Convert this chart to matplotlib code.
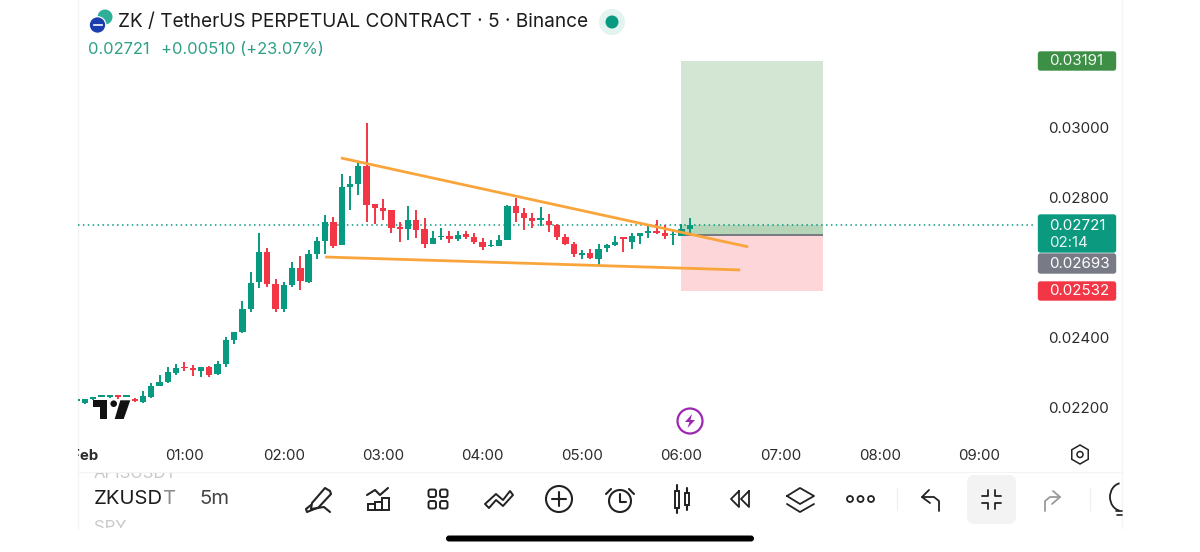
import numpy as np
import matplotlib
matplotlib.use("Agg")
import matplotlib.pyplot as plt
from matplotlib.patches import Circle, Polygon, FancyBboxPatch, Rectangle, RegularPolygon, Arc
from matplotlib.transforms import Bbox, TransformedBbox, IdentityTransform

plt.rcParams['font.family'] = ['Inter', 'DejaVu Sans']

# ---------- data (prices in units of 0.00001) ----------
opens = [2218,2213,2224,2230,2229,2235,2230,2224,2217,2231,2262,2272,2298,2316,2311,2304,2317,2295,2324,2392,2415,2482,2558,2644,2553,2481,2549,2599,2559,2639,2677,2731,2664,2830,2838,2891,2781,2771,2763,2714,2710,2736,2709,2667,2686,2689,2682,2695,2688,2672,2660,2662,2679,2776,2757,2742,2735,2734,2721,2686,2667,2637,2642,2625,2655,2664,2684,2674,2691,2699,2704,2699,2692,2691,2710]
closes = [2219,2224,2226,2231,2235,2229,2231,2219,2232,2262,2273,2300,2312,2312,2308,2316,2294,2324,2392,2416,2482,2557,2644,2553,2481,2550,2599,2561,2639,2677,2731,2662,2829,2838,2891,2779,2771,2762,2712,2710,2737,2708,2667,2684,2690,2682,2694,2687,2672,2658,2662,2679,2777,2755,2740,2733,2739,2722,2686,2666,2638,2642,2626,2654,2664,2674,2681,2690,2698,2702,2699,2690,2695,2710,2721]
highs = [2220,2225,2227,2232,2236,2236,2232,2228,2246,2271,2293,2317,2324,2331,2322,2317,2318,2333,2402,2416,2504,2588,2698,2655,2567,2559,2617,2633,2650,2688,2750,2745,2866,2862,2902,3012,2782,2795,2765,2729,2777,2765,2741,2705,2714,2704,2704,2705,2698,2684,2678,2693,2778,2799,2769,2755,2773,2753,2724,2695,2674,2651,2652,2666,2668,2691,2688,2699,2699,2720,2737,2722,2705,2724,2741]
lows = [2217,2210,2222,2229,2228,2224,2229,2216,2214,2228,2262,2269,2293,2305,2291,2288,2286,2294,2317,2381,2414,2473,2541,2544,2474,2473,2545,2535,2557,2625,2638,2657,2664,2765,2807,2731,2724,2737,2699,2674,2679,2683,2657,2667,2678,2669,2676,2681,2666,2649,2659,2661,2678,2731,2707,2714,2719,2702,2679,2664,2631,2624,2625,2607,2645,2662,2645,2652,2667,2683,2697,2681,2664,2690,2697]

time_labels = ["Feb", "01:00", "02:00", "03:00", "04:00", "05:00", "06:00", "07:00", "08:00", "09:00"]
price_ticks = [0.022, 0.024, 0.028, 0.030]
price_tick_labels = ["0.02200", "0.02400", "0.02800", "0.03000"]

last_price = 0.02721
target_price = 0.03191
entry_price = 0.02693
stop_price = 0.02532
position_bars = [72, 89.1]

upper_line_x = [30.9, 80.07]
upper_line_y = [0.02913, 0.02659]
lower_line_x = [29, 79.1]
lower_line_y = [0.02630, 0.02593]

GREEN = "#089981"
RED = "#F23645"
ORANGE = "#F9A53B"
INK = "#1c1c1e"
W, H = 1200, 552

fig = plt.figure(figsize=(12, 5.52), dpi=100, facecolor="white")

# ---------- chart pane ----------
L, R, B = 78, 1036, 442
ax = fig.add_axes([L / W, 1 - B / H, (R - L) / W, B / H])
ax.patch.set_alpha(0)
px_per_bar = 8.283
ax.set_xlim((L - 85) / px_per_bar, (R - 85) / px_per_bar)
ax.set_ylim(0.03 - (B - 127.5) / 35000, 0.03 + 127.5 / 35000)
for s in ax.spines.values():
    s.set_visible(False)

o, c, h, l = [np.array(a) * 1e-5 for a in (opens, closes, highs, lows)]
idx = np.arange(-1, len(o) - 1)
cols = [GREEN if ci >= oi else RED for oi, ci in zip(o, c)]

pw = position_bars[1] - position_bars[0]
ax.add_patch(Rectangle((position_bars[0], entry_price), pw, target_price - entry_price, fc="#d2e6d3", ec="none", zorder=1))
ax.add_patch(Rectangle((position_bars[0], entry_price), pw, last_price - entry_price, fc="#b6d5b8", ec="none", zorder=1.1))
ax.add_patch(Rectangle((position_bars[0], stop_price), pw, entry_price - stop_price, fc="#fdd6d9", ec="none", zorder=1))
ax.plot(position_bars, [entry_price, entry_price], color="#77797f", lw=1.4, zorder=2, solid_capstyle="butt")
ax.axhline(last_price, color=GREEN, lw=1.1, ls=(0, (1, 2.2)), zorder=2)

ax.vlines(idx, l, h, colors=cols, lw=1.4, zorder=3)
ax.bar(idx, np.maximum(np.abs(c - o), 5e-5), bottom=np.minimum(o, c), width=0.76, color=cols, zorder=4)

ax.plot(upper_line_x, upper_line_y, color=ORANGE, lw=2.0, zorder=5, solid_capstyle="butt")
ax.plot(lower_line_x, lower_line_y, color=ORANGE, lw=2.0, zorder=5, solid_capstyle="butt")

ax.yaxis.tick_right()
ax.set_yticks(price_ticks, price_tick_labels)
ax.tick_params(axis="y", length=0, pad=9.0, labelsize=10.9, labelcolor="#2b2b2e")
ax.set_xticks(np.arange(len(time_labels)) * 12, time_labels)
ax.tick_params(axis="x", length=0, pad=5.4, labelsize=10.8, labelcolor="#2b2b2e")
feb = ax.get_xticklabels()[0]
feb.set_fontweight("bold")
feb.set_clip_box(TransformedBbox(Bbox([[L, 0], [300, H]]), IdentityTransform()))
feb.set_clip_on(True)

# ---------- overlay in pixel units ----------
ui = fig.add_axes([0, 0, 1, 1], zorder=-1)
ui.set_xlim(0, W); ui.set_ylim(H, 0); ui.axis("off")
top = fig.add_axes([0, 0, 1, 1], zorder=5)
top.patch.set_alpha(0)
top.set_xlim(0, W); top.set_ylim(H, 0); top.axis("off")

# pane borders
for xs, ys in [((78, 78), (0, 528)), ((1122, 1122), (0, 528)), ((78, 1122), (472, 472))]:
    ui.plot(xs, ys, color="#f4f4f5", lw=0.9)

# TradingView logo (under the candles)
ui.add_patch(Polygon([(93, 400.3), (107.3, 400.3), (107.3, 419), (100.3, 419), (100.3, 407), (93, 407)], fc="#111111"))
ui.add_patch(Circle((113.7, 403.7), 3.3, fc="#111111"))
ui.add_patch(Polygon([(120.3, 400.3), (130.3, 400.3), (123.7, 419), (114.7, 419)], fc="#111111"))

# header
top.add_patch(Circle((105, 17), 7.5, fc="#2fae98"))
top.add_patch(Circle((97.5, 25), 8.3, fc="#1b3db0", ec="white", lw=0.9))
top.plot([93.5, 101.5], [25, 25], color="white", lw=1.2)
top.text(117.5, 22, "ZK / TetherUS PERPETUAL CONTRACT · 5 · Binance", fontsize=13.7, color=INK, va="center", ha="left")
top.add_patch(Circle((612, 22), 13, fc="#e3f3f0"))
top.add_patch(Circle((612, 22), 6.5, fc=GREEN))
top.text(88, 49.5, "0.02721", fontsize=11.9, color="#2f9f88", va="center")
top.text(161, 49.5, "+0.00510 (+23.07%)", fontsize=11.9, color="#2f9f88", va="center")

# right labels
def tag(y0, y1, color, lines):
    top.add_patch(FancyBboxPatch((1038.5, y0 + 1), 77, y1 - y0 - 2, boxstyle="round,pad=0,rounding_size=2",
                                 fc=color, ec=color, lw=1))
    for y, t, a in lines:
        top.text(1049, y, t, color="white", alpha=a, fontsize=10.9, va="center", ha="left")

tag(51, 71, "#3c8f45", [(61, "0.03191", 0.95)])
tag(214, 253, "#0b9a80", [(226, "0.02721", 1), (243, "02:14", 0.9)])
tag(253, 274, "#787b86", [(264, "0.02693", 1)])
tag(281, 301, "#F23645", [(291, "0.02532", 1)])

# alert & settings icons
PURPLE = "#9C27B0"
top.add_patch(Circle((690, 421), 12.5, fc="white", ec=PURPLE, lw=1.6))
top.add_patch(Polygon([(692, 414), (685, 422), (689.5, 422), (687.5, 428), (695, 420), (690.5, 420)], fc=PURPLE))
top.add_patch(RegularPolygon((1080, 454.5), 6, radius=9.5, fc="none", ec="#222222", lw=1.1))
top.add_patch(Circle((1080, 454.5), 3, fc="none", ec="#222222", lw=1.1))

# bottom toolbar
top.text(94, 499.5, "ZKUSD", fontsize=14.6, color=INK, va="center")
top.text(163, 499.5, "T", fontsize=14.6, color="#8b8b8e", va="center")
top.text(199, 499.5, "5m", fontsize=14.6, color="#444446", va="center")
t1 = top.text(94, 474, "APISUSDT", fontsize=12, color="#c9c9cc", va="center")
t1.set_clip_box(Bbox([[78, H - 520], [176, H - 473]])); t1.set_clip_on(True)
t2 = top.text(94, 527, "SPY", fontsize=12, color="#c9c9cc", va="center")
t2.set_clip_box(Bbox([[78, H - 528], [176, H - 500]])); t2.set_clip_on(True)

K = "#222224"
def pl(xs, ys, lw=1.5, color=K):
    top.plot(xs, ys, color=color, lw=lw, solid_capstyle="round", solid_joinstyle="round")

# pen
top.add_patch(Polygon([(312, 503), (325, 488), (330, 491), (331, 494), (318, 508), (311, 509)], fc="none", ec=K, lw=1.5, joinstyle="round"))
pl([311, 306, 307, 317, 324, 330], [505, 509, 512, 508, 507, 512])
# chart
pl([367, 375, 380, 388], [495, 490, 495, 488])
for x0, y0, w in [(368, 504, 7), (375, 502, 7), (382, 498, 7)]:
    top.add_patch(Rectangle((x0, y0), w, 510 - y0, fc="none", ec=K, lw=1.4))
# grid
for x0 in (428.5, 440):
    for y0 in (489.5, 501):
        top.add_patch(FancyBboxPatch((x0, y0), 7.5, 7.5, boxstyle="round,pad=0,rounding_size=2", fc="none", ec=K, lw=1.4))
# wave
top.add_patch(Polygon([(485, 504), (496, 494), (503, 500), (510, 491), (513, 495), (503, 506), (496, 500), (489, 508)],
                      fc="none", ec=K, lw=1.4, joinstyle="round"))
# plus
top.add_patch(Circle((559, 499), 13, fc="none", ec=K, lw=1.5))
pl([552, 566], [499, 499]); pl([559, 559], [492, 506])
# alarm
top.add_patch(Circle((620, 501), 11, fc="none", ec=K, lw=1.5))
pl([620, 620, 626], [494, 502, 502])
pl([606, 611], [494, 489]); pl([634, 629], [494, 489])
# candles
for x0, y0, y1, w0, w1 in [(675, 491, 508, 485, 513), (685, 493, 505, 488, 510)]:
    top.add_patch(Rectangle((x0, y0), 4, y1 - y0, fc="none", ec=K, lw=1.4))
    pl([x0 + 2, x0 + 2], [w0, y0]); pl([x0 + 2, x0 + 2], [y1, w1])
# rewind
pl([739, 731, 739, 739], [491, 499, 507, 491], lw=1.3); pl([749, 741, 749, 749], [491, 499, 507, 491], lw=1.3)
# layers
pl([787, 800, 814, 800, 787], [496, 488, 496, 504, 496], lw=1.3); pl([787, 800, 814], [504, 512, 504], lw=1.3)
# dots
for xc in (850, 860.5, 871):
    top.add_patch(Circle((xc, 499), 3.0, fc="none", ec=K, lw=1.3))
top.plot([897, 897], [488, 510], color="#f0f0f1", lw=1)
top.plot([1090, 1090], [488, 510], color="#f0f0f1", lw=1)
# undo
pl([929, 922, 930], [490, 497, 503], lw=1.3); pl([922, 934, 939, 939], [497, 497, 501, 511], lw=1.3)
# collapse
top.add_patch(FancyBboxPatch((967, 475), 49, 49, boxstyle="round,pad=0,rounding_size=7", fc="#f3f3f4", ec="none"))
pl([982, 988, 988], [496, 496, 490], lw=1.3); pl([1001, 995, 995], [496, 496, 490], lw=1.3)
pl([982, 988, 988], [503, 503, 509], lw=1.3); pl([1001, 995, 995], [503, 503, 509], lw=1.3)
# redo
G = "#9a9a9c"
pl([1053, 1060, 1052], [491, 497, 504], color=G, lw=1.3); pl([1060, 1050, 1045, 1045], [497, 497, 501, 511], color=G, lw=1.3)
# bulb, clipped by the panel edge
top.add_patch(Arc((1122, 497), 24, 28, theta1=100, theta2=260, color=K, lw=1.3))
pl([1116, 1122], [511, 511], lw=1.2); pl([1117, 1122], [515, 515], lw=1.2)

# home indicator
top.add_patch(FancyBboxPatch((446, 535.5), 308, 6, boxstyle="round,pad=0,rounding_size=3", fc="black", ec="none"))

fig.savefig("out.png", dpi=100, facecolor="white")
